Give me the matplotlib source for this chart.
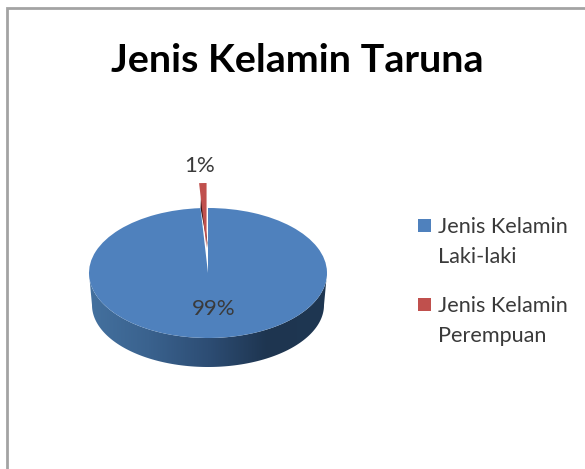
import numpy as np
import matplotlib
matplotlib.use("Agg")
import matplotlib.pyplot as plt
from matplotlib.colors import LinearSegmentedColormap
from matplotlib.patches import Rectangle, Polygon

title = "Jenis Kelamin Taruna"
categories = ["Jenis Kelamin\nLaki-laki", "Jenis Kelamin\nPerempuan"]
values = [99, 1]
colors = ["#4f81bd", "#c0504d"]

W, H = 585, 469
CX, CY, RX, RY = 208, 273, 119, 65

plt.rcParams["font.family"] = ["Lato", "DejaVu Sans"]
fig = plt.figure(figsize=(W / 100, H / 100), dpi=100)
ax = fig.add_axes([0, 0, 1, 1])

start = 90 + 360 * values[1] / sum(values)
lift = 25 / RY
wedges, texts, autotexts = ax.pie(
    values, colors=colors, startangle=start, radius=1,
    explode=[0, lift], autopct="%d%%", pctdistance=0.55,
    wedgeprops=dict(linewidth=0, zorder=3),
    textprops=dict(fontsize=16, color="#3a3a3a", zorder=6),
)
ax.set_aspect("auto")
xlim = (-CX / RX, (W - CX) / RX)
ylim = ((CY - H) / RY, CY / RY)

# side wall of the pie: a horizontal gradient clipped to the wall outline
cmap = LinearSegmentedColormap.from_list(
    "wall", ["#44719f", "#3a628e", "#2d4d74", "#1e3550", "#1f3752"])
grad = np.linspace(0, 1, 256).reshape(1, -1)
img = ax.imshow(grad, cmap=cmap, extent=(-1, 1, -1.6, 0.2), aspect="auto", zorder=1)
phi = np.linspace(np.pi, 2 * np.pi, 200)
upper = np.column_stack([np.cos(phi), np.sin(phi)])
lower = np.column_stack([np.cos(phi[::-1]) * 116 / RX,
                         np.sin(phi[::-1]) * 62 / RY - 32 / RY])
wall = Polygon(np.vstack([upper, lower]), closed=True, transform=ax.transData,
               fc="none", ec="none")
ax.add_patch(wall)
img.set_clip_path(wall)

# cut face of the pulled-out slice
t = np.radians(start)
rim = (np.cos(t), np.sin(t))
ax.add_patch(Polygon([rim, (0, lift), (np.cos(t) * 0.9, np.sin(t) * 0.9 + lift)],
                     closed=True, fc="#3a1414", ec="none", zorder=2.9))
wedges[1].set_zorder(4)

autotexts[0].set_position(((214 - CX) / RX, (CY - 309) / RY))
autotexts[1].set_position(((200 - CX) / RX, (CY - 166) / RY))

ax.set_xlim(*xlim)
ax.set_ylim(*ylim)
ax.axis("off")

fig.text(297.5 / W, 1 - 60 / H, title, ha="center", va="center",
         fontsize=28.4, fontweight="bold", color="black")

# legend
for label, color, y in zip(categories, colors, (219, 298)):
    fig.add_artist(Rectangle((418 / W, 1 - (y + 13) / H), 13 / W, 13 / H,
                             transform=fig.transFigure, fc=color, ec="none"))
    fig.text(438 / W, 1 - (y - 2) / H, label, ha="left", va="top",
             fontsize=15.6, color="#3a3a3a", linespacing=1.6)

fig.add_artist(Rectangle((7 / W, -0.05), 1.2, 1 - 8 / H + 0.05,
                         transform=fig.transFigure, fill=False,
                         ec="#a3a3a3", lw=2))
fig.savefig("out.png", dpi=100)
